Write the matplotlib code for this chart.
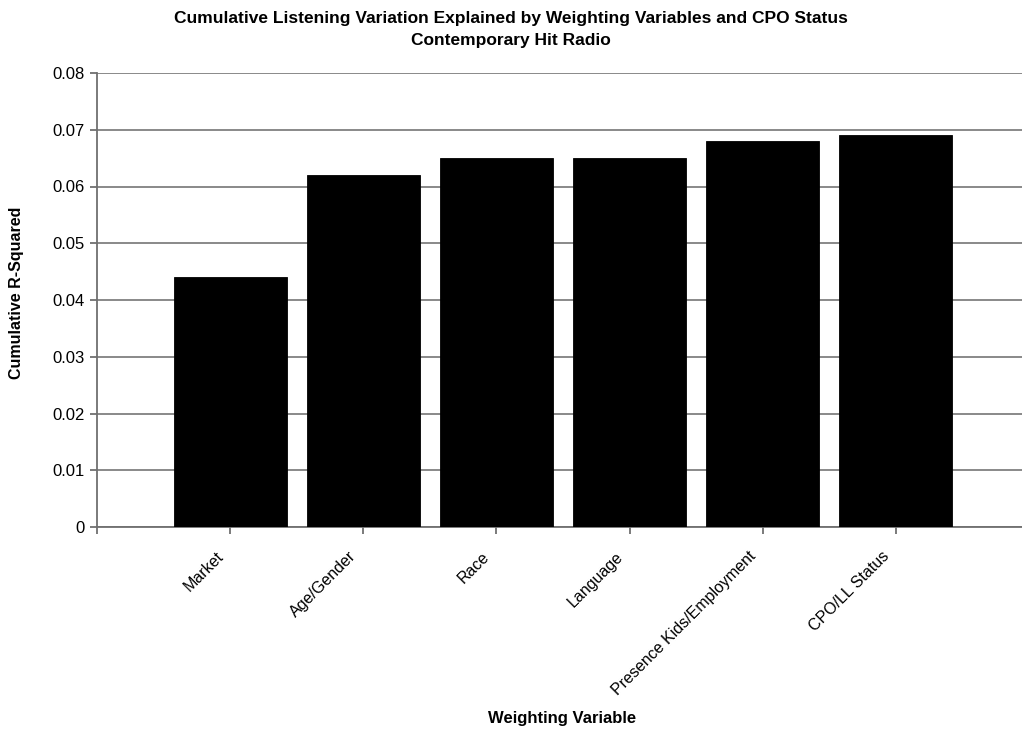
import matplotlib
matplotlib.use("Agg")
import matplotlib.pyplot as plt
import matplotlib.transforms as mtransforms

plt.rcParams['font.family'] = ['Liberation Sans', 'DejaVu Sans']

categories = ["Market", "Age/Gender", "Race", "Language",
              "Presence Kids/Employment", "CPO/LL Status"]
r_squared = [0.044, 0.062, 0.065, 0.065, 0.068, 0.069]
y_ticks = [0, 0.01, 0.02, 0.03, 0.04, 0.05, 0.06, 0.07, 0.08]
y_tick_labels = ["0", "0.01", "0.02", "0.03", "0.04", "0.05", "0.06", "0.07", "0.08"]

title_lines = ["Cumulative Listening Variation Explained by Weighting Variables and CPO Status",
               "Contemporary Hit Radio"]
x_label = "Weighting Variable"
y_label = "Cumulative R-Squared"

W, H = 1022, 732
fig = plt.figure(figsize=(W / 100, H / 100), dpi=100)
ax = fig.add_axes([97 / W, 1 - 527 / H, 932 / W, 454 / H])

grid_color = "#808080"
positions = list(range(1, len(categories) + 1))
ax.bar(positions, r_squared, width=0.85, color="black", edgecolor="black",
       linewidth=0.6, zorder=3)

ax.set_xlim(0, 7)
ax.set_ylim(0, 0.08)
ax.set_yticks(y_ticks)
ax.set_yticklabels(y_tick_labels, fontsize=12)
ax.yaxis.grid(True, color=grid_color, linewidth=1.3, zorder=0)
ax.set_axisbelow(True)

for side in ("top", "right"):
    ax.spines[side].set_visible(False)
for side in ("left", "bottom"):
    ax.spines[side].set_color("#707070")
    ax.spines[side].set_linewidth(1.3)
ax.tick_params(axis="both", direction="out", color="#707070", width=1.3, length=5)
ax.tick_params(axis="y", pad=4)

ax.set_xticks([0] + positions)
ax.set_xticklabels([""] + categories, fontsize=11.5, rotation=45,
                   ha="right", va="top")
# nudge the slanted category names down and to the left of their ticks
shift = mtransforms.ScaledTranslation(-4 / 100, -10 / 100, fig.dpi_scale_trans)
for lbl in ax.get_xticklabels():
    lbl.set_transform(lbl.get_transform() + shift)

fig.text(0.5, 1 - 18 / H, title_lines[0], ha="center", va="center",
         fontsize=12.5, fontweight="bold")
fig.text(0.5, 1 - 40 / H, title_lines[1], ha="center", va="center",
         fontsize=12.5, fontweight="bold")
fig.text(562 / W, 1 - 718 / H, x_label, ha="center", va="center",
         fontsize=12, fontweight="bold")
fig.text(17 / W, 1 - 293 / H, y_label, ha="center", va="center",
         rotation=90, fontsize=11.5, fontweight="bold")

fig.savefig("out.png", dpi=100)
